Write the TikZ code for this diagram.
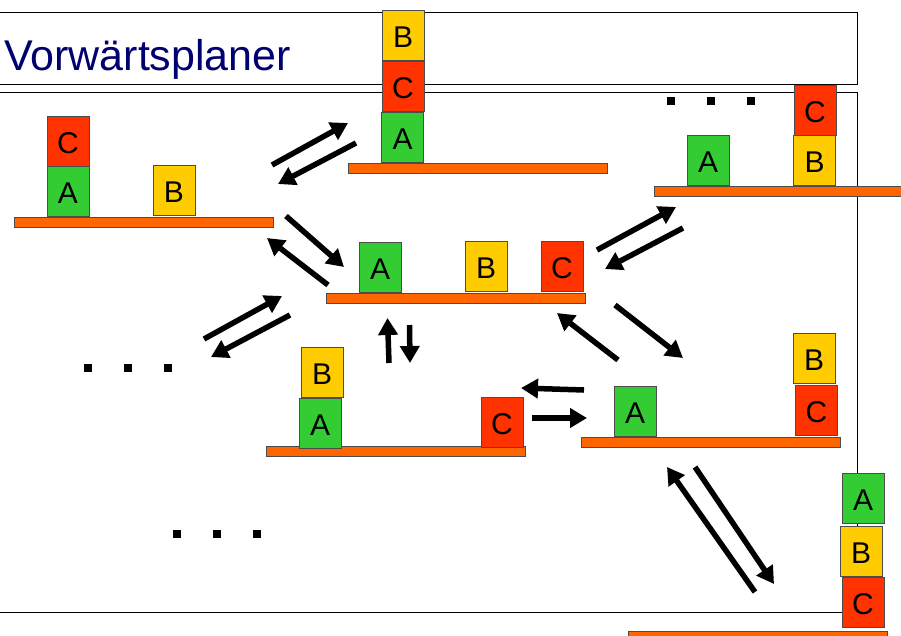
\documentclass[tikz,border=0pt]{standalone}
\usepackage{fontspec}
\setmainfont{Liberation Sans}
\usetikzlibrary{arrows.meta}
\definecolor{bred}{HTML}{FF3300}
\definecolor{bgreen}{HTML}{33CC33}
\definecolor{byellow}{HTML}{FFCC00}
\definecolor{torange}{HTML}{FF6600}
\definecolor{titleblue}{HTML}{000070}
\tikzset{
  blk/.style={draw=black!70, line width=1pt, minimum width=42pt, minimum height=50pt,
    inner sep=0pt, outer sep=0pt, text height=25pt, text depth=0pt,
    font=\fontsize{30}{30}\selectfont},
  ablk/.style={blk, fill=bgreen},
  bblk/.style={blk, fill=byellow},
  cblk/.style={blk, fill=bred},
  tbl/.style={draw=black!70, line width=1pt, fill=torange, minimum width=259pt,
    minimum height=10pt, inner sep=0pt, outer sep=0pt},
  dotsq/.style={fill=black, minimum size=8pt, inner sep=0pt, outer sep=0pt},
  mv/.style={line width=5.5pt, -{Triangle[length=17pt, width=19pt]}},
  frame/.style={draw=black, line width=1pt}
}
\begin{document}
\begin{tikzpicture}[x=1pt, y=-1pt]
\useasboundingbox (0,0) rectangle (901,635);
% frames
\draw[frame] (-5,12) -- (857,12) -- (857,84) -- (-5,84);
\draw[frame] (-5,92) -- (857,92) -- (857,612) -- (-5,612);
\node[anchor=base west, inner sep=0pt, text=titleblue, font=\fontsize{43}{43}\selectfont] (title) at (4,70) {Vorwärtsplaner};

% state 1 (left)
\node[tbl] (t1) at (143.5,222) {};
\node[ablk] (a1) at (68,191) {A};
\node[cblk] (c1) at (68,141) {C};
\node[bblk] (b1) at (174,190) {B};

% state 2 (top middle)
\node[tbl] (t2) at (477.5,168) {};
\node[ablk] (a2) at (402.5,137) {A};
\node[cblk] (c2) at (403,86) {C};
\node[bblk] (b2) at (403,35) {B};

% state 3 (top right)
\node[tbl] (t3) at (783.5,191) {};
\node[ablk] (a3) at (708,160) {A};
\node[bblk] (b3) at (814.5,160) {B};
\node[cblk] (c3) at (815,110) {C};

% state 4 (center)
\node[tbl] (t4) at (455.5,298.5) {};
\node[ablk] (a4) at (380,267) {A};
\node[bblk] (b4) at (486,266) {B};
\node[cblk] (c4) at (562,266) {C};

% state 5 (bottom left)
\node[tbl] (t5) at (395.5,451.5) {};
\node[ablk] (a5) at (320,423) {A};
\node[bblk] (b5) at (322,372) {B};
\node[cblk] (c5) at (502,422) {C};

% state 6 (right middle)
\node[tbl] (t6) at (710.5,442) {};
\node[ablk] (a6) at (635,411) {A};
\node[cblk] (c6) at (816.5,410) {C};
\node[bblk] (b6) at (814,358) {B};

% state 7 (bottom right)
\node[tbl] (t7) at (757.5,636) {};
\node[cblk] (c7) at (863,602) {C};
\node[bblk] (b7) at (861,551) {B};
\node[ablk] (a7) at (863,498) {A};

% dots
\foreach \i/\x in {1/671,2/711,3/751} \node[dotsq] (dt\i) at (\x,101) {};
\foreach \i/\x in {1/88,2/128,3/168} \node[dotsq] (dl\i) at (\x,368) {};
\foreach \i/\x in {1/177,2/217,3/257} \node[dotsq] (db\i) at (\x,534) {};

% arrow end points
\coordinate (p1s) at (272,165);   \coordinate (p1e) at (348,123);
\coordinate (p2s) at (356,143);   \coordinate (p2e) at (278,184);
\coordinate (p3s) at (286,216);   \coordinate (p3e) at (344,267);
\coordinate (p4s) at (328,285);   \coordinate (p4e) at (267,238);
\coordinate (p5s) at (204,339);   \coordinate (p5e) at (282,296);
\coordinate (p6s) at (290,315);   \coordinate (p6e) at (211,357);
\coordinate (p7s) at (389,363);   \coordinate (p7e) at (387.5,318);
\coordinate (p8s) at (409.5,325); \coordinate (p8e) at (410,363);
\coordinate (p9s) at (597,250);   \coordinate (p9e) at (676,207);
\coordinate (p10s) at (683,228); \coordinate (p10e) at (605,269);
\coordinate (p11s) at (618,360); \coordinate (p11e) at (557,313);
\coordinate (p12s) at (615,305); \coordinate (p12e) at (683,358);
\coordinate (p13s) at (584,390); \coordinate (p13e) at (521,388);
\coordinate (p14s) at (532,418); \coordinate (p14e) at (587,418);
\coordinate (p15s) at (755,592); \coordinate (p15e) at (667,467);
\coordinate (p16s) at (695,467); \coordinate (p16e) at (774,584);

\foreach \k in {1,...,16} \draw[mv] (p\k s) -- (p\k e);
\end{tikzpicture}
\end{document}
